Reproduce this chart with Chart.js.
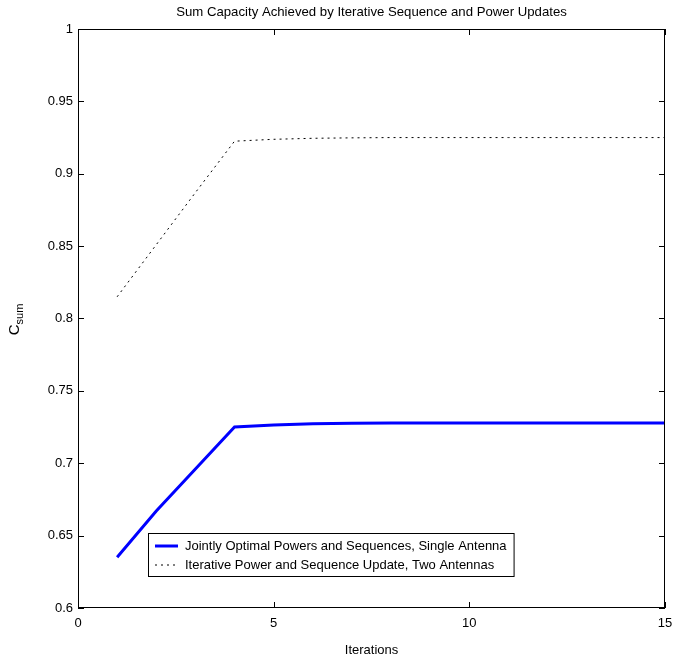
<!DOCTYPE html>
<html>
<head>
  <title>Sum Capacity</title>
  <script src="https://cdn.jsdelivr.net/npm/chart.js"></script>
  <style>
    body { margin: 0; background: #fff; }
    #wrap { width: 673px; height: 659px; }
  </style>
</head>
<body>
  <div id="wrap"><canvas id="myChart" width="673" height="659"></canvas></div>

  <script>
    const iterations = [1, 2, 3, 4, 5, 6, 7, 8, 9, 10, 11, 12, 13, 14, 15];
    const singleAntenna = [0.635, 0.667, 0.696, 0.725, 0.7265, 0.7273, 0.7276, 0.7278, 0.7278, 0.7278, 0.7278, 0.7278, 0.7278, 0.7278, 0.7278];
    const twoAntennas = [0.815, 0.851, 0.887, 0.9225, 0.9238, 0.9245, 0.9248, 0.925, 0.925, 0.925, 0.925, 0.925, 0.925, 0.925, 0.925];
    const xTicks = [0, 5, 10, 15];
    const yTicks = [0.6, 0.65, 0.7, 0.75, 0.8, 0.85, 0.9, 0.95, 1];

    const FONT = 'Liberation Sans, Arial, Helvetica, sans-serif';

    // matlab-style box, inward ticks, title, y label and legend
    const matlabLook = {
      id: 'matlabLook',
      afterDraw(chart) {
        const ctx = chart.ctx;
        const a = chart.chartArea;
        const xs = chart.scales.x, ys = chart.scales.y;
        ctx.save();
        ctx.strokeStyle = '#000';
        ctx.lineWidth = 1;
        ctx.strokeRect(a.left + 0.5, a.top + 0.5, a.right - a.left - 1, a.bottom - a.top - 1);
        ctx.beginPath();
        xTicks.forEach(v => {
          const px = Math.round(xs.getPixelForValue(v)) + 0.5;
          ctx.moveTo(px, a.bottom); ctx.lineTo(px, a.bottom - 6);
          ctx.moveTo(px, a.top); ctx.lineTo(px, a.top + 6);
        });
        yTicks.forEach(v => {
          const py = Math.round(ys.getPixelForValue(v)) + 0.5;
          ctx.moveTo(a.left, py); ctx.lineTo(a.left + 6, py);
          ctx.moveTo(a.right, py); ctx.lineTo(a.right - 6, py);
        });
        ctx.stroke();

        // title
        ctx.fillStyle = '#000';
        ctx.font = '13.2px ' + FONT;
        ctx.textAlign = 'center';
        ctx.textBaseline = 'middle';
        ctx.fillText('Sum Capacity Achieved by Iterative Sequence and Power Updates', (a.left + a.right) / 2, 12.5);

        // y label C_sum
        ctx.save();
        ctx.translate(15, (a.top + a.bottom) / 2 + 1);
        ctx.rotate(-Math.PI / 2);
        ctx.textAlign = 'left';
        ctx.font = '15px ' + FONT;
        const cw = ctx.measureText('C').width;
        ctx.font = '11px ' + FONT;
        const sw = ctx.measureText('sum').width;
        const x0 = -(cw + sw) / 2;
        ctx.font = '15px ' + FONT;
        ctx.fillText('C', x0, 0);
        ctx.font = '11px ' + FONT;
        ctx.fillText('sum', x0 + cw, 5);
        ctx.restore();

        // legend
        ctx.font = '13px ' + FONT;
        const labels = chart.data.datasets.map(d => d.label);
        const textW = Math.max(...labels.map(l => ctx.measureText(l).width));
        const lx = a.left + 70, ly = a.bottom - 75;
        const w = textW + 44, h = 43;
        ctx.fillStyle = '#fff';
        ctx.fillRect(lx, ly, w, h);
        ctx.strokeStyle = '#000';
        ctx.lineWidth = 1;
        ctx.strokeRect(lx + 0.5, ly + 0.5, w, h);
        chart.data.datasets.forEach((d, i) => {
          const cy = ly + 13 + i * 19;
          ctx.beginPath();
          ctx.strokeStyle = d.borderColor;
          ctx.lineWidth = d.borderWidth;
          ctx.setLineDash(d.borderDash || []);
          ctx.moveTo(lx + 7, cy); ctx.lineTo(lx + 30, cy);
          ctx.stroke();
          ctx.setLineDash([]);
          ctx.fillStyle = '#000';
          ctx.textAlign = 'left';
          ctx.fillText(d.label, lx + 37, cy);
        });
        ctx.restore();
      }
    };

    const ctx = document.getElementById('myChart').getContext('2d');
    new Chart(ctx, {
      type: 'line',
      data: {
        datasets: [{
          label: 'Jointly Optimal Powers and Sequences, Single Antenna',
          data: iterations.map((x, i) => ({ x: x, y: singleAntenna[i] })),
          borderColor: '#0000ff',
          borderWidth: 3,
          pointRadius: 0,
          tension: 0
        }, {
          label: 'Iterative Power and Sequence Update, Two Antennas',
          data: iterations.map((x, i) => ({ x: x, y: twoAntennas[i] })),
          borderColor: '#000000',
          borderWidth: 1,
          borderDash: [2, 4],
          pointRadius: 0,
          tension: 0
        }]
      },
      options: {
        responsive: false,
        animation: false,
        layout: { padding: { top: 29, right: 8, left: 0, bottom: 0 } },
        plugins: { legend: { display: false }, tooltip: { enabled: false } },
        scales: {
          x: {
            type: 'linear', min: 0, max: 15,
            afterBuildTicks: s => { s.ticks = xTicks.map(v => ({ value: v })); },
            afterFit: s => { s.height = 51; s.paddingLeft = 0; s.paddingRight = 0; },
            grid: { display: false, drawTicks: false },
            border: { display: false },
            ticks: { color: '#000', padding: 8, font: { family: FONT, size: 13 }, callback: v => String(v) },
            title: { display: true, text: 'Iterations', color: '#000', padding: { top: 4, bottom: 1 }, font: { family: FONT, size: 13 } }
          },
          y: {
            min: 0.6, max: 1,
            afterBuildTicks: s => { s.ticks = yTicks.map(v => ({ value: v })); },
            afterFit: s => { s.width = 78; s.paddingTop = 0; s.paddingBottom = 0; },
            grid: { display: false, drawTicks: false },
            border: { display: false },
            ticks: { color: '#000', padding: 5, font: { family: FONT, size: 13 }, callback: v => String(+v.toFixed(2)) }
          }
        }
      },
      plugins: [matlabLook]
    });
  </script>
</body>
</html>
